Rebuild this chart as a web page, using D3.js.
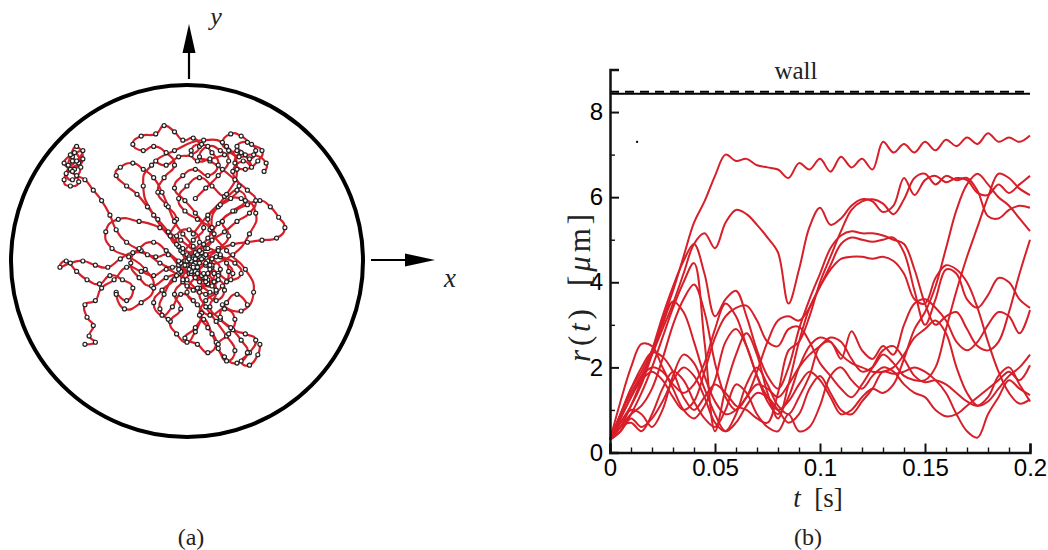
<!DOCTYPE html>
<html>
<head>
<meta charset="utf-8">
<script src="https://cdn.jsdelivr.net/npm/d3@7"></script>
<style>
  body { margin: 0; background: #fff; }
  svg { display: block; }
  .axis .tick text { font-family: "Liberation Sans", Arial, sans-serif; font-size: 24px; fill: #000; }
  .axis path, .axis line { stroke: #111; }
  .tex { font-family: "Liberation Serif", "DejaVu Serif", serif; fill: #222; }
</style>
</head>
<body>
<svg width="1048" height="550"></svg>
<script>
var svg = d3.select("svg"),
    red = "#d71f29";

//----------------------------------------------------------------- panel (b) data
var tValues = [0, 0.005, 0.01, 0.015, 0.02, 0.025, 0.03, 0.035, 0.04, 0.045,
               0.05, 0.055, 0.06, 0.065, 0.07, 0.075, 0.08, 0.085, 0.09, 0.095,
               0.1, 0.105, 0.11, 0.115, 0.12, 0.125, 0.13, 0.135, 0.14, 0.145,
               0.15, 0.155, 0.16, 0.165, 0.17, 0.175, 0.18, 0.185, 0.19, 0.195, 0.2];

var rA = [0.3,0.9,1.5,1.9,2.4,3.1,3.8,4.6,5.4,5.9, 6.5,7.0,6.85,6.9,6.75,6.7,6.65,6.45,6.8,6.65,
          6.9,6.6,6.95,6.7,6.9,6.65,7.3,7.05,7.25,7.05, 7.3,7.1,7.35,7.2,7.4,7.25,7.5,7.3,7.4,7.3, 7.45];
var rB = [0.3,0.8,1.3,1.8,2.3,2.9,3.5,4.2,4.9,5.15, 4.8,5.4,5.7,5.6,5.35,5.05,4.7,3.5,4.3,5.3,
          5.75,5.35,5.5,5.8,5.95,5.9,5.65,5.8,6.45,6.05, 6.4,6.5,6.35,6.45,6.4,6.1,6.05,6.3,6.1,6.3, 6.5];
var rC = [0.3,0.9,1.5,2.0,2.35,2.25,1.9,1.3,1.0,1.3, 1.6,1.4,1.1,1.0,0.8,0.7,1.4,2.4,2.6,3.2,
          4.0,4.6,5.2,5.7,5.9,5.95,5.85,5.6,5.95,6.45, 6.55,6.3,6.5,6.4,6.45,6.15,5.55,5.5,5.7,5.8, 5.75];
var rD = [0.3,1.2,2.0,2.55,2.5,2.0,1.5,1.0,0.8,1.1, 1.7,2.6,2.9,2.5,1.8,1.3,1.0,1.2,1.6,1.9,
          1.7,1.3,0.9,1.0,1.3,1.5,1.4,1.6,2.2,2.9, 3.3,3.9,4.8,5.7,6.3,6.55,6.3,6.0,5.8,5.5, 5.2];
var rE = [0.3,0.7,1.1,1.6,2.3,3.0,3.55,3.3,2.6,1.8, 1.2,0.9,1.0,1.3,1.6,1.5,1.3,1.6,2.0,2.3,
          2.5,2.7,2.6,2.2,1.9,2.0,2.3,2.1,1.8,1.7, 1.7,2.0,2.9,3.8,4.6,5.3,6.0,6.55,6.45,6.2, 6.05];
var rF = [0.3,0.6,1.1,1.7,2.4,3.2,3.9,4.5,4.9,4.2, 3.2,3.6,3.8,3.2,2.4,1.8,1.5,2.0,2.9,3.6,
          4.2,4.8,5.1,5.2,5.15,5.15,5.1,5.0,4.9,4.3, 3.5,3.0,3.2,3.3,2.9,2.5,2.4,2.6,3.3,4.2, 5.0];
var rG = [0.3,0.5,0.9,1.4,2.0,2.7,3.4,4.0,4.45,2.6, 0.5,1.5,2.3,2.8,2.3,1.4,0.8,1.6,2.6,3.4,
          3.9,4.4,4.9,5.05,5.0,4.95,5.0,5.05,4.7,3.8, 3.0,3.6,4.3,4.2,3.6,3.4,3.7,4.1,4.0,3.6, 3.4];
var rH = [0.3,0.6,0.9,1.1,1.5,2.2,3.0,3.6,3.95,3.3, 2.1,1.3,1.0,1.3,1.9,2.6,3.1,3.2,3.1,3.4,
          3.9,4.3,4.55,4.6,4.6,4.55,4.6,4.5,4.2,3.6, 3.5,4.1,4.4,4.3,4.0,3.4,2.6,1.9,1.4,1.15, 1.25];
var rI = [0.3,0.8,1.3,1.7,1.9,1.7,1.3,1.0,1.2,1.9, 2.7,3.2,3.4,3.45,3.1,2.6,2.5,2.9,2.95,2.6,
          2.1,1.8,1.5,1.3,1.6,2.0,2.4,2.5,2.2,1.8, 1.65,1.7,1.6,1.4,1.2,1.1,1.3,1.8,2.0,1.6, 1.2];
var rJ = [0.3,0.6,0.7,0.5,0.9,1.5,1.9,1.7,1.2,0.8, 0.6,1.0,1.6,1.4,0.9,0.6,0.5,0.9,0.5,0.6,
          1.1,1.8,2.0,1.7,1.5,1.8,2.0,1.9,1.6,1.4, 1.3,1.0,0.85,0.9,1.1,1.3,1.5,1.7,1.9,1.7, 2.05];
var rK = [0.3,0.7,1.0,0.9,0.6,1.0,1.8,2.3,2.1,1.5, 0.9,0.5,0.7,1.1,1.4,1.3,1.0,0.7,0.9,1.5,
          1.8,1.4,1.0,0.9,1.2,1.5,1.9,1.85,1.9,2.0, 1.9,1.7,1.4,0.9,0.5,0.35,0.9,1.3,1.7,1.5, 1.35];
var rL = [0.3,0.5,0.8,0.6,0.8,1.2,1.7,2.0,1.8,1.3, 0.7,0.5,0.9,1.6,2.0,1.6,1.1,0.9,1.3,1.8,
          2.5,2.6,2.2,2.85,2.4,2.2,2.5,2.3,3.0,3.5, 3.6,3.4,3.1,2.6,2.4,2.6,3.0,3.3,3.2,2.8, 3.35];
var rM = [0.3,0.9,1.4,1.8,2.0,1.9,1.6,1.4,1.6,2.1, 2.9,3.5,3.2,2.5,1.8,1.2,0.9,1.3,2.0,2.5,
          2.7,2.6,2.3,2.1,2.0,1.9,1.9,2.0,2.3,2.7, 2.9,3.1,2.8,2.0,1.4,1.1,1.2,1.5,1.8,2.0, 2.3];

var radiusSeries = [rA, rB, rC, rD, rE, rF, rG, rH, rI, rJ, rK, rL, rM];

var wallSolid = 8.43, wallDashed = 8.48;
var strayPoint = [0.0129, 7.3];

var xTicks = [0, 0.05, 0.1, 0.15, 0.2],
    xTickLabels = ["0", "0.05", "0.1", "0.15", "0.2"],
    xMinor = [0.01, 0.02, 0.03, 0.04, 0.06, 0.07, 0.08, 0.09, 0.11, 0.12, 0.13, 0.14, 0.16, 0.17, 0.18, 0.19];
var yTicks = [0, 2, 4, 6, 8],
    yTickLabels = ["0", "2", "4", "6", "8"],
    yMinor = [1, 3, 5, 7];

//----------------------------------------------------------------- panel (a) data (positions in um)
var wallR = 8.45;
var path1 = [[0.2,0.1],[0.5,-0.3],[0.1,-0.6],[-0.4,-0.2],[-0.9,0.3],[-1.5,0.2],[-2.2,0.5],[-2.9,0.9],[-3.4,1.5],[-3.7,2.2],
             [-4.1,2.9],[-4.5,3.4],[-4.9,3.9],[-5.3,4.1],[-5.6,4.4],[-5.2,4.7],[-5.5,5.0],[-5.0,5.3],[-5.3,4.8],[-5.7,4.6],
             [-5.4,5.2],[-5.1,4.5],[-5.5,3.9],[-5.8,4.2],[-5.4,4.4],[-5.0,4.9],[-5.3,5.5],[-5.6,5.1],[-5.9,4.7],[-5.5,4.3],
             [-5.2,3.8],[-5.6,3.6],[-5.9,3.9],[-5.5,4.8]];
var path2 = [[0.3,0.2],[0.9,0.6],[1.3,1.3],[1.0,2.0],[1.5,2.6],[2.1,3.0],[2.5,3.6],[2.2,4.3],[2.7,4.8],[3.1,4.5],
             [2.8,5.1],[2.4,5.5],[2.9,5.7],[3.3,5.3],[3.0,4.9],[2.6,5.2],[2.3,4.7],[2.8,4.4],[3.4,4.8],[3.6,5.3],
             [3.1,5.6],[2.6,6.0],[2.1,6.1],[1.7,5.7],[2.0,5.3],[2.5,5.0],[3.2,5.1],[3.8,4.7],[3.7,4.3]];
var path3 = [[0.0,-0.2],[-0.3,0.5],[-0.8,1.2],[-0.5,2.0],[-1.0,2.7],[-1.4,3.3],[-1.1,4.0],[-0.6,4.6],[-1.0,5.2],[-1.6,5.5],
             [-2.1,5.3],[-2.6,5.6],[-2.2,6.0],[-1.5,6.1],[-1.1,6.5],[-0.6,6.2],[-0.2,5.8],[0.3,5.9],[0.6,5.5],[0.2,5.1],
             [-0.4,5.0],[-1.0,4.6],[-1.5,4.8]];
var path4 = [[0.4,-0.1],[0.9,0.3],[1.5,0.6],[2.0,1.2],[1.7,1.9],[2.3,2.4],[2.9,2.7],[3.5,2.9],[4.0,2.6],[4.4,2.1],
             [4.7,1.6],[4.3,1.1],[3.6,1.0],[2.9,0.9],[2.2,0.8],[1.5,0.5],[1.0,0.0],[1.5,-0.6],[2.1,-0.9],[2.6,-0.6],
             [2.3,-0.1],[1.6,0.2]];
var path5 = [[-0.1,0.0],[-0.7,-0.3],[-1.3,-0.1],[-1.9,0.3],[-2.6,0.4],[-3.2,0.1],[-3.8,-0.3],[-4.4,-0.2],[-5.0,0.0],[-5.6,-0.1],
             [-6.1,-0.3],[-5.8,0.0],[-5.3,-0.5],[-4.8,-0.9],[-4.2,-1.1],[-3.7,-0.7],[-3.1,-0.9],[-2.6,-1.3],[-2.9,-1.9],[-3.4,-1.5]];
var path6 = [[0.2,-0.3],[-0.4,-0.6],[-1.0,-0.4],[-1.6,-0.7],[-2.2,-0.5],[-2.9,-0.3],[-3.5,-0.9],[-4.1,-1.3],[-4.4,-1.9],[-4.9,-2.1],
             [-4.8,-2.7],[-4.5,-3.1],[-4.7,-3.6],[-4.4,-3.9],[-4.9,-4.0]];
var path7 = [[0.5,-0.3],[0.9,-0.9],[1.4,-1.5],[1.1,-2.2],[1.6,-2.8],[2.2,-3.3],[2.8,-3.5],[3.3,-3.8],[3.0,-4.4],[2.6,-4.8],
             [3.0,-5.0],[3.4,-4.5],[3.5,-4.0]];
var path8 = [[0.3,-0.5],[-0.2,-1.0],[-0.6,-1.6],[-0.3,-2.3],[-0.8,-2.9],[-0.5,-3.5],[0.0,-3.9],[0.4,-3.4],[0.8,-2.8],[1.2,-3.5],
             [1.5,-4.2],[1.9,-4.8],[2.3,-4.3],[1.9,-3.6],[1.4,-2.9],[0.9,-2.2],[0.6,-1.5],[1.0,-0.9],[0.5,-0.5]];
var path9 = [[0.0,0.3],[0.6,0.9],[0.1,1.5],[-0.5,1.2],[-0.2,0.6],[0.6,0.2],[1.2,-0.3],[0.8,-0.8],[0.2,-0.6],[-0.3,-0.1],
             [0.4,0.4],[1.0,1.1],[1.5,1.8],[2.2,2.4],[2.8,2.9],[2.4,3.4],[1.8,3.1],[1.2,3.6],[0.6,4.0],[0.0,3.6],
             [-0.4,3.0],[-0.1,2.4],[0.5,2.0],[1.1,1.5],[0.8,0.8],[0.3,0.1]];
var path10 = [[0.2,0.0],[-0.3,-0.5],[-1.0,-0.8],[-1.7,-1.2],[-2.3,-0.8],[-2.7,-0.1],[-2.3,0.6],[-1.6,0.9],[-1.0,0.5],[-0.4,0.0],
              [0.3,-0.4],[0.9,-0.8],[0.6,-1.3],[0.0,-1.2],[-0.5,-0.7],[-1.1,-1.6],[-1.3,-2.3],[-0.9,-2.8]];
var path11 = [[0.0,0.0],[0.4,-0.5],[0.9,-0.2],[1.3,-0.6],[1.0,-1.1],[0.5,-1.3],[0.0,-0.9],[-0.4,-0.4],[0.1,0.2],[0.7,0.4],
              [1.2,0.1],[1.6,-0.4],[1.3,-1.0],[0.7,-0.7],[0.3,-0.2],[0.8,0.2],[0.5,-0.6],[1.1,-1.5],[1.7,-1.2],[2.0,-0.5],
              [1.6,0.3],[1.0,0.6]];
var path12 = [[0.1,0.1],[-0.4,0.7],[-0.9,1.4],[-1.4,2.0],[-1.9,2.6],[-2.4,3.2],[-2.9,3.6],[-3.4,4.1],[-3.2,4.5],[-2.6,4.7],
              [-2.1,4.4],[-1.6,4.0],[-1.2,3.3],[-0.9,2.6],[-0.6,1.9],[-0.2,1.3],[0.3,0.7],[0.7,0.1]];
var path13 = [[-0.1,-0.2],[-0.6,-0.9],[-1.2,-1.4],[-1.6,-2.0],[-1.2,-2.6],[-0.7,-2.2],[-0.3,-1.6],[0.3,-1.9],[0.7,-2.5],[0.4,-3.2],
              [-0.1,-3.7],[0.5,-4.0],[1.0,-4.4],[1.4,-3.9],[1.0,-3.2],[0.6,-2.6],[0.9,-1.9],[1.4,-1.4],[1.0,-0.6]];
var path14 = [[0.6,0.5],[1.2,1.0],[1.8,1.4],[2.4,1.9],[3.0,2.3],[3.3,2.9],[2.9,3.4],[2.3,3.9],[1.7,4.4],[1.1,4.8],
              [0.6,5.0],[1.0,5.5],[1.6,5.3],[2.0,4.8],[1.5,4.1],[0.9,3.5],[0.4,3.0]];
var path15 = [[0.3,-0.3],[0.8,-0.6],[1.2,-0.2],[0.9,0.3],[0.4,0.1],[0.2,-0.5],[0.6,-1.0],[1.2,-1.2],[1.5,-0.7],[1.1,-0.4],
              [0.6,-0.1],[0.1,-0.4],[-0.2,-0.9],[0.3,-1.4],[0.9,-1.6],[1.4,-1.9],[1.8,-1.4],[1.5,-0.9],[0.9,-1.0],[0.5,-0.6],
              [0.9,-0.1],[1.4,0.2],[1.9,-0.1],[2.2,-0.6],[1.9,-1.0]];
var path16 = [[-0.2,0.4],[0.3,1.0],[0.8,1.6],[0.4,2.3],[-0.1,2.9],[-0.6,3.5],[-0.2,4.1],[0.4,4.4],[1.0,4.1],[1.5,4.6],
              [1.2,5.2],[0.7,5.6],[0.2,5.3],[0.5,4.8],[1.1,4.9],[1.8,5.1],[2.4,5.3]];
var path17 = [[0.4,-0.8],[0.0,-1.5],[0.5,-2.1],[1.1,-2.6],[1.8,-2.3],[2.3,-2.8],[2.0,-3.5],[1.5,-4.0],[1.8,-4.6],[2.4,-4.9],
              [2.9,-4.4],[2.6,-3.8],[2.1,-3.2],[1.6,-2.7],[1.9,-2.0],[2.4,-1.6],[2.9,-2.1]];
var path18 = [[0.5,0.3],[-0.3,1.0],[-1.3,1.6],[-2.3,1.9],[-3.3,2.0],[-3.9,1.4],[-3.6,0.6],[-2.8,0.2],[-2.0,-0.4],[-1.6,-1.3],
              [-2.2,-2.0],[-3.0,-2.3],[-3.4,-1.6]];
var path19 = [[-0.5,0.8],[-1.6,2.2],[-2.1,3.6],[-1.7,4.6],[-0.6,5.3],[0.8,5.8],[1.9,5.5],[2.4,4.4],[1.9,3.2],[1.0,2.2],[0.3,1.3]];
var path20 = [[1.1,-0.2],[2.2,0.3],[3.0,1.3],[3.3,2.3],[2.6,3.0],[1.6,2.7],[1.2,1.6],[1.9,0.5],[2.8,-0.4],[3.2,-1.5],
              [2.6,-2.4],[1.7,-2.1]];

var trajectories = [path1, path2, path3, path4, path5, path6, path7, path8, path9, path10,
                    path11, path12, path13, path14, path15, path16, path17, path18, path19, path20];

//----------------------------------------------------------------- panel (a)
var xa = d3.scaleLinear().domain([-wallR, wallR]).range([11, 363]),
    ya = d3.scaleLinear().domain([-wallR, wallR]).range([437, 85]);

var ga = svg.append("g");

ga.append("circle")
    .attr("cx", xa(0))
    .attr("cy", ya(0))
    .attr("r", xa(wallR) - xa(0))
    .attr("fill", "none")
    .attr("stroke", "#000")
    .attr("stroke-width", 4);

// loose cardinal curve so the tracks swing between the sampled positions
var trajLine = d3.line()
    .x(function (d) { return xa(d[0]); })
    .y(function (d) { return ya(d[1]); })
    .curve(d3.curveCardinal.tension(-0.6));

ga.selectAll(".traj")
    .data(trajectories)
  .enter().append("path")
    .attr("class", "traj")
    .attr("d", trajLine)
    .attr("fill", "none")
    .attr("stroke", red)
    .attr("stroke-width", 2.2);

ga.selectAll(".trajdots")
    .data(trajectories)
  .enter().append("g")
    .attr("class", "trajdots")
  .selectAll("circle")
    .data(function (d) { return d; })
  .enter().append("circle")
    .attr("cx", function (d) { return xa(d[0]); })
    .attr("cy", function (d) { return ya(d[1]); })
    .attr("r", 2)
    .attr("fill", "#fff")
    .attr("stroke", "#222")
    .attr("stroke-width", 1.2);

// axis arrows above and right of the circle
var ax0 = xa(0) + 2, ay0 = ya(0) - 1;
ga.append("line")
    .attr("x1", ax0).attr("y1", ya(wallR) - 6)
    .attr("x2", ax0).attr("y2", 52)
    .attr("stroke", "#000").attr("stroke-width", 2.2);
ga.append("path")
    .attr("d", "M" + (ax0 - 6.5) + ",53L" + ax0 + ",24L" + (ax0 + 6.5) + ",53Z")
    .attr("fill", "#000");
ga.append("line")
    .attr("x1", xa(wallR) + 8).attr("y1", ay0)
    .attr("x2", 406).attr("y2", ay0)
    .attr("stroke", "#000").attr("stroke-width", 2.2);
ga.append("path")
    .attr("d", "M405," + (ay0 - 6.5) + "L435," + ay0 + "L405," + (ay0 + 6.5) + "Z")
    .attr("fill", "#000");

ga.append("text").attr("class", "tex")
    .attr("x", 216).attr("y", 25)
    .attr("text-anchor", "middle")
    .style("font-size", "26px").style("font-style", "italic")
    .text("y");
ga.append("text").attr("class", "tex")
    .attr("x", 450).attr("y", 287)
    .attr("text-anchor", "middle")
    .style("font-size", "27px").style("font-style", "italic")
    .text("x");

svg.append("text").attr("class", "tex")
    .attr("x", 191).attr("y", 545)
    .attr("text-anchor", "middle")
    .style("font-size", "24px")
    .text("(a)");

//----------------------------------------------------------------- panel (b)
var x = d3.scaleLinear().domain([0, 0.2]).range([610, 1030]),
    y = d3.scaleLinear().domain([0, 9]).range([452.5, 69.5]);

var rLine = d3.line()
    .x(function (d, i) { return x(tValues[i]); })
    .y(function (d) { return y(d); })
    .curve(d3.curveCatmullRom.alpha(0.5));

var gb = svg.append("g");

gb.selectAll(".rline")
    .data(radiusSeries)
  .enter().append("path")
    .attr("class", "rline")
    .attr("d", rLine)
    .attr("fill", "none")
    .attr("stroke", red)
    .attr("stroke-width", 2);

// wall position
gb.append("line")
    .attr("x1", x(0)).attr("x2", x(0.2))
    .attr("y1", y(wallSolid)).attr("y2", y(wallSolid))
    .attr("stroke", "#000").attr("stroke-width", 2);
gb.append("line")
    .attr("x1", x(0)).attr("x2", x(0.2))
    .attr("y1", y(wallDashed)).attr("y2", y(wallDashed))
    .attr("stroke", "#000").attr("stroke-width", 2)
    .attr("stroke-dasharray", "9,6");

gb.append("rect")
    .attr("x", x(strayPoint[0]) - 1).attr("y", y(strayPoint[1]) - 1)
    .attr("width", 2).attr("height", 2)
    .attr("fill", "#000");

gb.append("text").attr("class", "tex")
    .attr("x", 796).attr("y", 79)
    .attr("text-anchor", "middle")
    .style("font-size", "25px")
    .text("wall");

// axes, ticks pointing inward
gb.append("g")
    .attr("class", "axis")
    .attr("transform", "translate(0," + y(0) + ")")
    .call(d3.axisBottom(x).tickValues(xMinor).tickSizeInner(-5).tickSizeOuter(0).tickFormat(""))
    .call(function (g) { g.select(".domain").remove(); })
    .selectAll("line").attr("stroke-width", 1.4);

gb.append("g")
    .attr("class", "axis")
    .attr("transform", "translate(" + x(0) + ",0)")
    .call(d3.axisLeft(y).tickValues(yMinor).tickSizeInner(-5).tickSizeOuter(0).tickFormat(""))
    .call(function (g) { g.select(".domain").remove(); })
    .selectAll("line").attr("stroke-width", 1.4);

var xAxis = gb.append("g")
    .attr("class", "axis")
    .attr("transform", "translate(0," + y(0) + ")")
    .call(d3.axisBottom(x)
        .tickValues(xTicks)
        .tickSizeInner(-9)
        .tickSizeOuter(-9)
        .tickPadding(6)
        .tickFormat(function (d, i) { return xTickLabels[i]; }));
xAxis.select(".domain").attr("stroke-width", 2.5);
xAxis.selectAll(".tick line").attr("stroke-width", 2);

var yAxis = gb.append("g")
    .attr("class", "axis")
    .attr("transform", "translate(" + x(0) + ",0)")
    .call(d3.axisLeft(y)
        .tickValues(yTicks)
        .tickSizeInner(-9)
        .tickSizeOuter(-9)
        .tickPadding(7)
        .tickFormat(function (d, i) { return yTickLabels[i]; }));
yAxis.select(".domain").attr("stroke-width", 2.5);
yAxis.selectAll(".tick line").attr("stroke-width", 2);

// axis titles
var xTitle = gb.append("text").attr("class", "tex")
    .attr("x", 818).attr("y", 507)
    .attr("text-anchor", "middle")
    .style("font-size", "27px");
xTitle.append("tspan").style("font-style", "italic").text("t");
xTitle.append("tspan").text("\u2002[s]");

var yTitle = gb.append("text").attr("class", "tex")
    .attr("transform", "translate(590,288) rotate(-90)")
    .attr("text-anchor", "middle")
    .attr("textLength", 148)
    .attr("lengthAdjust", "spacing")
    .style("font-size", "31px");
yTitle.append("tspan").style("font-style", "italic").text("r");
yTitle.append("tspan").text("(");
yTitle.append("tspan").style("font-style", "italic").text("t");
yTitle.append("tspan").text(")\u2002[");
yTitle.append("tspan").style("font-style", "italic").text("\u03bc");
yTitle.append("tspan").text("m]");

svg.append("text").attr("class", "tex")
    .attr("x", 808).attr("y", 545)
    .attr("text-anchor", "middle")
    .style("font-size", "24px")
    .text("(b)");
</script>
</body>
</html>
